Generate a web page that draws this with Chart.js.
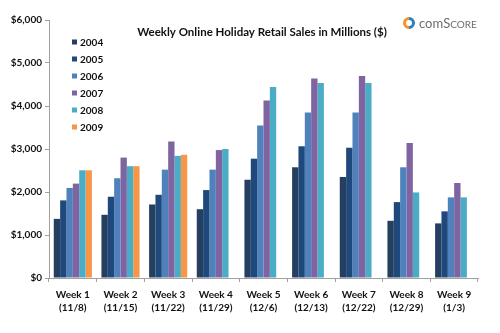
<!DOCTYPE html>
<html>
<head>
<meta charset="utf-8">
<script src="https://cdn.jsdelivr.net/npm/chart.js@4.4.0/dist/chart.umd.min.js"></script>
<style>
  html, body { margin: 0; padding: 0; background: #fff; }
  #wrap { width: 500px; height: 333px; position: relative; }
</style>
</head>
<body>
<div id="wrap"><canvas id="salesChart" width="500" height="333"></canvas></div>
<script>
// Week labels (two lines each)
const weeks = [
    ['Week 1', '(11/8)'], ['Week 2', '(11/15)'], ['Week 3', '(11/22)'],
    ['Week 4', '(11/29)'], ['Week 5', '(12/6)'], ['Week 6', '(12/13)'],
    ['Week 7', '(12/22)'], ['Week 8', '(12/29)'], ['Week 9', '(1/3)']
];
const years = ['2004', '2005', '2006', '2007', '2008', '2009'];
const colors = ['#243F60', '#1F497D', '#4F81BD', '#8064A2', '#4BACC6', '#F79646'];

// Sales in millions of dollars
const sales2004 = [1375, 1470, 1710, 1600, 2285, 2575, 2350, 1330, 1270];
const sales2005 = [1805, 1890, 1935, 2045, 2775, 3065, 3030, 1765, 1550];
const sales2006 = [2095, 2320, 2520, 2520, 3545, 3850, 3850, 2575, 1875];
const sales2007 = [2195, 2800, 3175, 2975, 4130, 4640, 4700, 3140, 2210];
const sales2008 = [2505, 2600, 2840, 3000, 4440, 4535, 4535, 1990, 1875];
const sales2009 = [2505, 2600, 2865, null, null, null, null, null, null];
const yTicks = [0, 1000, 2000, 3000, 4000, 5000, 6000];

const allSales = [sales2004, sales2005, sales2006, sales2007, sales2008, sales2009];
const fontFamily = 'Lato, "Open Sans", sans-serif';

// Title, legend and logo drawn at fixed spots over the plot
const decorations = {
    id: 'decorations',
    afterDraw(chart) {
        const c = chart.ctx;
        c.save();
        c.fillStyle = '#111';
        c.font = 'bold 11.5px ' + fontFamily;
        c.textAlign = 'center';
        c.textBaseline = 'middle';
        c.fillText('Weekly Online Holiday Retail Sales in Millions ($)', 262, 32);

        // legend
        c.textAlign = 'left';
        c.font = 'bold 10px ' + fontFamily;
        years.forEach((y, i) => {
            const cy = 42 + i * 17;
            c.fillStyle = colors[i];
            c.fillRect(72, cy - 2.5, 5, 5);
            c.fillStyle = '#111';
            c.fillText(y, 80, cy + 0.5);
        });

        // comScore logo
        c.lineWidth = 3;
        c.strokeStyle = '#F7941D';
        c.beginPath();
        c.arc(409, 23, 4.5, Math.PI * 0.5, Math.PI * 1.5);
        c.stroke();
        c.strokeStyle = '#2E7FC1';
        c.beginPath();
        c.arc(409, 23, 4.5, -Math.PI * 0.5, Math.PI * 0.5);
        c.stroke();
        c.fillStyle = '#6d6d6d';
        c.font = '13px ' + fontFamily;
        c.fillText('com', 419, 24);
        const w = c.measureText('com').width;
        c.fillText('S', 419 + w, 24);
        const w2 = c.measureText('S').width;
        c.font = '10px ' + fontFamily;
        c.fillText('CORE', 419 + w + w2, 24.5);
        c.restore();
    }
};

new Chart(document.getElementById('salesChart').getContext('2d'), {
    type: 'bar',
    data: {
        labels: weeks,
        datasets: years.map((y, i) => ({
            label: y,
            data: allSales[i],
            backgroundColor: colors[i],
            borderWidth: 0,
            categoryPercentage: 0.8,
            barPercentage: 1.0
        }))
    },
    options: {
        responsive: false,
        animation: false,
        layout: { padding: { top: 20, right: 22, bottom: 0, left: 0 } },
        plugins: {
            legend: { display: false },
            title: { display: false },
            tooltip: { enabled: false }
        },
        scales: {
            x: {
                grid: {
                    offset: true,
                    drawOnChartArea: false,
                    tickLength: 4,
                    color: '#a0a0a0'
                },
                border: { color: '#a0a0a0', width: 1 },
                ticks: {
                    color: '#111',
                    font: { family: fontFamily, size: 10, weight: 'bold', lineHeight: 1.25 },
                    padding: 7,
                    maxRotation: 0,
                    autoSkip: false
                },
                afterFit(s) { s.height = 55; }
            },
            y: {
                min: 0,
                max: 6000,
                afterBuildTicks(s) { s.ticks = yTicks.map(v => ({ value: v })); },
                grid: {
                    drawOnChartArea: false,
                    tickLength: 4,
                    color: '#a0a0a0'
                },
                border: { color: '#a0a0a0', width: 1 },
                ticks: {
                    color: '#111',
                    font: { family: fontFamily, size: 10, weight: 'bold' },
                    padding: 3,
                    callback: v => '$' + v.toLocaleString('en-US')
                },
                afterFit(s) { s.width = 49; }
            }
        }
    },
    plugins: [decorations]
});
</script>
</body>
</html>
